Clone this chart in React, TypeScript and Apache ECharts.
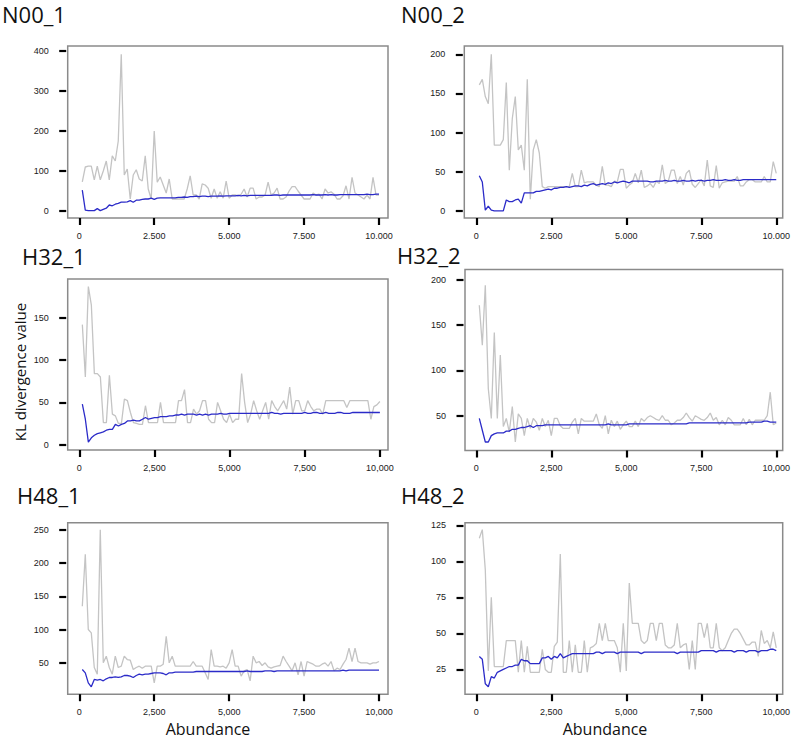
import React, { useEffect, useRef } from "react";
import * as echarts from "echarts";

// Abundance (x) sampled every 100 reads
const abundance = Array.from({ length: 100 }, (_, i) => (i + 1) * 100);
const xTicks = [0, 2500, 5000, 7500, 10000];

// N00_1
const n00_1Raw = [73,110,112,112,78,112,78,100,125,78, 138,125,175,392,90,105,30,90,103,80, 75,138,55,30,200,72,85,65,45,80, 30,30,30,30,30,55,88,40,40,30, 68,65,57,32,55,32,48,32,75,32, 40,40,38,42,55,35,57,57,30,35, 35,40,72,40,45,57,30,30,35,50, 61,61,50,40,30,30,30,45,40,42, 30,55,45,48,42,30,30,38,63,30, 84,45,40,35,30,40,30,84,40,40];
const n00_1Avg = [52,2,1,1,1,6,1,4,7,15, 13,17,19,22,22,23,26,22,27,27, 29,30,30,32,29,32,33,33,33,33, 33,33,34,34,35,34,36,36,37,36, 37,37,36,37,37,37,38,37,38,38, 38,38,39,38,39,38,39,39,39,39, 39,39,39,39,40,40,39,40,40,40, 40,40,40,40,40,40,40,41,40,40, 40,41,40,41,40,40,41,41,41,41, 41,41,41,41,41,42,41,41,42,42];

// N00_2
const n00_2Raw = [161,168,146,137,200,84,84,84,91,164, 52,118,146,78,84,52,168,15,78,91, 74,31,29,31,31,31,31,31,31,31, 31,48,31,31,52,36,37,37,37,33, 31,57,33,33,31,38,37,53,53,29, 33,36,48,36,52,30,32,35,30,38, 35,59,35,38,52,52,35,44,33,48, 52,34,30,35,40,32,65,32,30,58, 29,36,37,38,38,38,44,32,32,37, 40,40,37,37,37,44,37,37,63,48];
const n00_2Avg = [45,37,1,6,1,0,0,0,0,14, 12,12,14,15,10,23,23,23,23,25, 25,26,27,28,27,29,29,30,30,31, 30,31,32,32,31,33,32,34,35,33, 34,35,34,36,35,37,36,37,38,37, 36,38,38,38,38,38,38,37,37,38, 38,38,39,38,38,39,38,38,39,38, 38,39,38,39,39,38,39,39,40,39, 39,39,40,39,39,40,39,39,40,40, 40,40,40,40,40,40,40,40,40,40];

// H32_1
const h32_1Raw = [142,80,187,165,84,84,80,26,26,82, 36,34,25,25,54,52,38,26,25,24, 24,46,26,26,26,26,50,26,26,26, 26,26,52,52,65,26,26,42,36,40, 52,52,30,26,26,50,40,30,26,36, 26,30,30,84,50,26,36,52,40,30, 40,50,30,52,45,40,46,52,42,68, 36,52,52,40,40,52,45,40,42,42, 36,52,52,52,52,52,52,52,44,52, 52,52,52,52,52,52,30,45,47,51];
const h32_1Avg = [48,30,3,8,11,13,14,15,17,18, 18,24,22,24,25,28,28,29,28,28, 30,32,30,31,32,32,33,33,33,34, 34,35,35,36,35,36,36,36,35,36, 35,36,35,36,36,36,37,36,36,37, 37,37,37,37,37,37,37,37,37,37, 37,37,37,38,37,37,36,37,37,37, 37,37,37,37,38,37,37,38,38,37, 37,38,37,37,37,38,38,37,37,37, 38,38,38,38,38,38,38,38,38,38];

// H32_2
const h32_2Raw = [172,128,194,80,47,142,47,117,38,47, 32,60,21,52,47,28,47,36,47,43, 34,47,38,45,28,47,47,39,36,36, 36,43,47,30,47,44,44,44,44,52, 40,36,50,30,45,38,44,35,40,44, 38,38,44,38,47,44,48,50,48,46, 45,50,45,45,40,42,45,45,48,53, 48,44,50,48,46,45,48,53,45,48, 40,45,40,48,45,40,40,40,47,40, 46,40,45,45,45,45,50,76,40,42];
const h32_2Avg = [47,34,21,21,28,30,31,31,31,33, 33,35,35,36,37,37,38,39,37,39, 39,39,40,40,40,40,40,40,40,40, 40,40,40,40,40,40,40,40,40,40, 40,40,40,41,40,40,40,40,40,40, 41,41,41,41,41,41,41,41,41,41, 41,41,41,41,41,41,41,41,41,41, 42,42,42,42,42,42,42,42,42,42, 42,42,42,42,42,42,42,42,42,42, 43,43,43,43,43,44,44,43,43,43];

// H48_1
const h48_1Raw = [135,213,100,95,43,33,250,50,60,43, 33,60,43,45,60,55,54,40,43,45, 42,45,45,45,20,45,45,48,90,50, 60,45,45,45,45,45,45,52,45,45, 45,35,25,70,45,45,44,45,42,50, 70,45,45,30,38,40,23,60,50,52, 46,50,44,42,44,45,46,60,52,45, 38,50,32,52,30,52,50,48,45,45, 48,50,45,52,38,42,40,48,55,72, 52,72,52,50,50,50,48,50,50,52];
const h48_1Avg = [40,35,20,14,25,24,25,23,26,28, 28,29,28,29,31,31,30,28,31,33, 32,33,33,34,35,35,35,34,32,35, 35,36,36,36,36,36,36,36,37,37, 37,37,37,37,37,37,37,37,37,37, 37,37,37,37,37,38,37,37,37,37, 37,38,38,38,37,38,38,38,38,38, 38,38,38,38,38,38,38,38,38,38, 38,38,38,38,38,38,38,39,38,39, 39,39,39,39,39,39,39,39,39,39];

// H48_2
const h48_2Raw = [116,122,94,24,75,27,27,27,27,45, 45,45,45,23,45,23,41,23,23,23, 23,39,25,23,23,41,44,105,23,23, 45,23,42,23,23,45,23,40,41,43, 57,45,57,45,45,45,40,23,57,24, 85,57,57,57,45,43,45,57,57,45, 57,57,42,40,40,42,57,40,42,43, 25,45,25,57,57,47,57,40,40,57, 40,38,40,45,50,53,53,50,46,42, 42,44,44,34,52,43,45,40,51,40];
const h48_2Avg = [34,32,15,13,20,19,23,24,25,26, 27,27,28,28,32,31,31,29,29,29, 29,33,33,34,32,34,33,36,33,34, 35,36,36,36,36,36,36,36,36,37, 37,36,37,37,37,37,36,37,37,37, 37,37,37,37,36,37,37,37,37,37, 37,37,37,37,37,37,36,37,37,37, 37,37,37,37,38,38,38,38,38,37, 38,38,38,38,38,37,38,38,38,37, 38,38,38,37,38,38,38,39,39,38];

const panels = [
  { name: "N00_1", raw: n00_1Raw, avg: n00_1Avg, yTicks: [0, 100, 200, 300, 400], sep: ".",
    box: { left: 67.7, top: 46, width: 320.3, height: 172 }, x: [-387, 10300], y: [-17.5, 412.5], title: [2, 14] },
  { name: "N00_2", raw: n00_2Raw, avg: n00_2Avg, yTicks: [0, 50, 100, 150, 200], sep: ".",
    box: { left: 464.3, top: 46, width: 318.4, height: 172 }, x: [-400, 10215], y: [-9, 210.6], title: [401, 14] },
  { name: "H32_1", raw: h32_1Raw, avg: h32_1Avg, yTicks: [0, 50, 100, 150], sep: ",",
    box: { left: 67.7, top: 279, width: 320.3, height: 171 }, x: [-387, 10270], y: [-6.4, 196], title: [22, 255.5] },
  { name: "H32_2", raw: h32_2Raw, avg: h32_2Avg, yTicks: [50, 100, 150, 200], sep: ",",
    box: { left: 465, top: 269.5, width: 317.7, height: 181 }, x: [-377, 10215], y: [11.6, 211.5], title: [397, 254.5] },
  { name: "H48_1", raw: h48_1Raw, avg: h48_1Avg, yTicks: [50, 100, 150, 200, 250], sep: ",",
    box: { left: 67.7, top: 522.7, width: 320.3, height: 171.5 }, x: [-387, 10300], y: [2.9, 260.5], title: [17, 495] },
  { name: "H48_2", raw: h48_2Raw, avg: h48_2Avg, yTicks: [25, 50, 75, 100, 125], sep: ",",
    box: { left: 465, top: 522.7, width: 317.7, height: 171.5 }, x: [-377, 10215], y: [7.8, 126.8], title: [401, 495] },
];

const fmt = (v: number, sep: string) =>
  v >= 1000 ? Math.floor(v / 1000) + sep + String(v % 1000).padStart(3, "0") : String(v);

const GRAY = "#c4c4c4";
const BLUE = "#2b2bc8";
const tickFont = "Liberation Sans";

export default function App() {
  const ref = useRef<HTMLDivElement>(null);
  useEffect(() => {
    if (!ref.current) return;
    const chart = echarts.init(ref.current, null, { renderer: "svg" });
    const option: any = {
      animation: false,
      backgroundColor: "#ffffff",
      grid: panels.map((p) => ({
        ...p.box,
        show: true,
        borderColor: "#8a8a8a",
        borderWidth: 1.5,
        backgroundColor: "#ffffff",
      })),
      xAxis: panels.map((p, i) => ({
        type: "value",
        gridIndex: i,
        position: "bottom",
        min: p.x[0],
        max: p.x[1],
        axisLine: { show: false, onZero: false },
        splitLine: { show: false },
        axisTick: { show: true, length: 7, lineStyle: { color: "#000", width: 2.2 }, customValues: xTicks },
        axisLabel: {
          customValues: xTicks,
          formatter: (v: number) => fmt(v, p.sep),
          fontSize: 9,
          fontFamily: tickFont,
          color: "#1a1a1a",
          margin: 13,
        },
      })),
      yAxis: panels.map((p, i) => ({
        type: "value",
        gridIndex: i,
        position: "left",
        min: p.y[0],
        max: p.y[1],
        offset: 1.5,
        axisLine: { show: false, onZero: false },
        splitLine: { show: false },
        axisTick: { show: true, length: 7, lineStyle: { color: "#000", width: 2.2 }, customValues: p.yTicks },
        axisLabel: {
          customValues: p.yTicks,
          fontSize: 9,
          fontFamily: tickFont,
          color: "#1a1a1a",
          margin: 17.5,
        },
      })),
      series: panels.flatMap((p, i) => [
        {
          type: "line",
          name: p.name + " KL",
          xAxisIndex: i,
          yAxisIndex: i,
          showSymbol: false,
          symbol: "none",
          silent: true,
          lineStyle: { color: GRAY, width: 1.3 },
          data: abundance.map((x, j) => [x, p.raw[j]]),
          z: 2,
        },
        {
          type: "line",
          name: p.name + " mean",
          xAxisIndex: i,
          yAxisIndex: i,
          showSymbol: false,
          symbol: "none",
          silent: true,
          lineStyle: { color: BLUE, width: 1.3 },
          data: abundance.map((x, j) => [x, p.avg[j]]),
          z: 3,
        },
      ]),
      graphic: [
        ...panels.map((p) => ({
          type: "text",
          x: p.title[0],
          y: p.title[1],
          style: {
            text: p.name,
            font: '22px "Open Sans"',
            lineHeight: 22,
            fill: "#111",
            textAlign: "left",
            textVerticalAlign: "middle",
          },
        })),
        {
          type: "text",
          x: 20,
          y: 372,
          rotation: Math.PI / 2,
          style: {
            text: "KL divergence value",
            font: '15px "Open Sans"',
            lineHeight: 15,
            fill: "#111",
            textAlign: "center",
            textVerticalAlign: "middle",
          },
        },
        {
          type: "text",
          x: 208,
          y: 729,
          style: {
            text: "Abundance",
            font: '16px "Open Sans"',
            lineHeight: 16,
            fill: "#111",
            textAlign: "center",
            textVerticalAlign: "middle",
          },
        },
        {
          type: "text",
          x: 605,
          y: 729,
          style: {
            text: "Abundance",
            font: '16px "Open Sans"',
            lineHeight: 16,
            fill: "#111",
            textAlign: "center",
            textVerticalAlign: "middle",
          },
        },
      ],
    };
    chart.setOption(option);
    return () => chart.dispose();
  }, []);
  return (
    <div
      ref={ref}
      style={{ position: "absolute", left: 0, top: 0, width: 795, height: 739, background: "#fff" }}
    />
  );
}
